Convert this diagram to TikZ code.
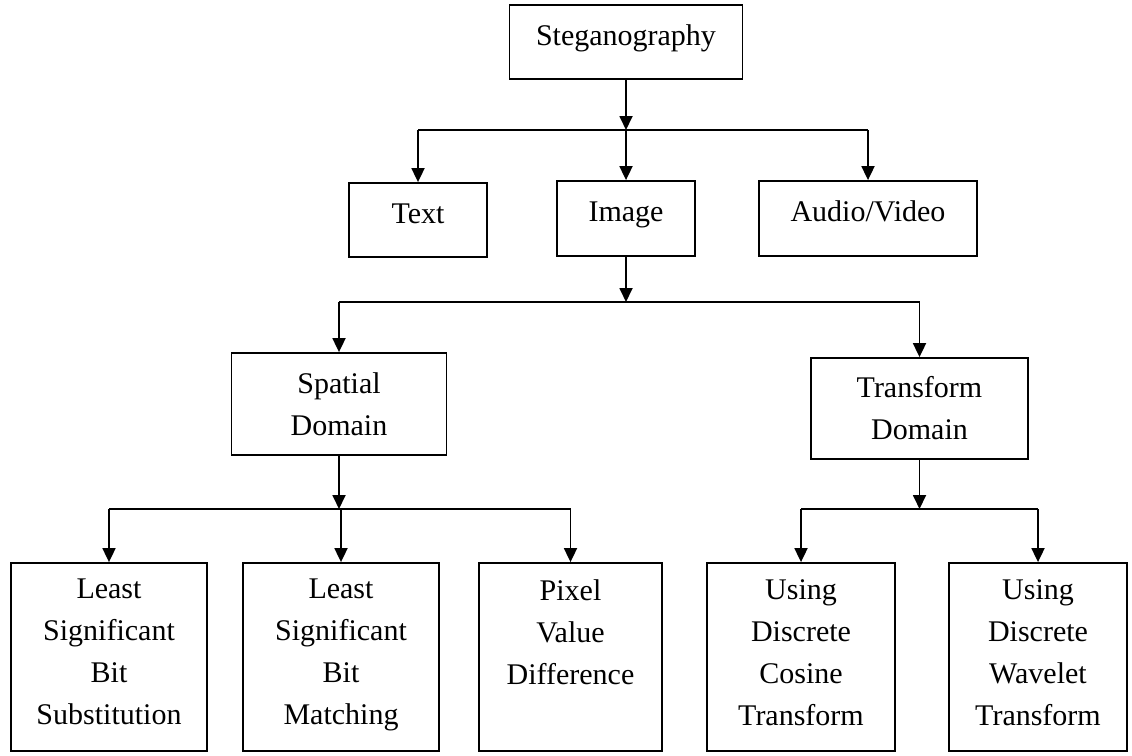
\documentclass[tikz,border=0pt]{standalone}
\usepackage{fontspec}
\setmainfont{Liberation Serif}
\usetikzlibrary{arrows.meta}
\begin{document}
\begin{tikzpicture}[x=1pt,y=-1pt,
  box/.style={draw, line width=1.8pt, inner sep=0pt, align=center,
    font=\fontsize{30}{42}\selectfont},
  single/.style={text height=20pt, text depth=14pt},
  lbl/.style={inner sep=0pt, align=center, anchor=north,
    font=\fontsize{30}{42}\selectfont},
  conn/.style={line width=1.8pt},
  arr/.style={line width=1.8pt, -{Triangle[length=14pt,width=13pt]}}]
\useasboundingbox[fill=white] (0,0) rectangle (1132,755);

% level 0 and 1
\node[box, single, minimum width=233, minimum height=74] (stego) at (626,42) {Steganography};
\node[box, single, minimum width=138, minimum height=74] (text) at (418,220) {Text};
\node[box, single, minimum width=138, minimum height=75] (image) at (626,218.5) {Image};
\node[box, single, minimum width=218, minimum height=75] (av) at (868,218.5) {Audio/Video};

% level 2
\node[box, minimum width=215, minimum height=102] (spatial) at (339,404) {Spatial\\Domain};
\node[box, minimum width=217, minimum height=101] (transform) at (919.5,408.5) {Transform\\Domain};

% level 3 boxes
\node[box, minimum width=196, minimum height=188] (lsbs) at (109,657) {};
\node[box, minimum width=196, minimum height=188] (lsbm) at (341,657) {};
\node[box, minimum width=183, minimum height=188] (pvd) at (570.5,657) {};
\node[box, minimum width=188, minimum height=188] (dct) at (801,657) {};
\node[box, minimum width=178, minimum height=188] (dwt) at (1038,657) {};

% level 3 texts (top aligned)
\node[lbl] (lsbsT) at ([yshift=-17pt]lsbs.north) {Least\\Significant\\Bit\\Substitution};
\node[lbl] (lsbmT) at ([yshift=-17pt]lsbm.north) {Least\\Significant\\Bit\\Matching};
\node[lbl] (pvdT) at ([yshift=-17pt]pvd.north) {Pixel\\Value\\Difference};
\node[lbl] (dctT) at ([yshift=-17pt]dct.north) {Using\\Discrete\\Cosine\\Transform};
\node[lbl] (dwtT) at ([yshift=-17pt]dwt.north) {Using\\Discrete\\Wavelet\\Transform};

% bus coordinates
\coordinate (b1) at (626,130);
\coordinate (b2) at (626,302);
\coordinate (b3) at (339,509);
\coordinate (b4) at (919.5,509);

% connectors level 0 -> 1
\draw[arr] (stego.south) -- (b1);
\draw[conn] (text |- b1) -- (av |- b1);
\draw[arr] (text |- b1) -- (text.north);
\draw[arr] (image |- b1) -- (image.north);
\draw[arr] (av |- b1) -- (av.north);

% image -> domains
\draw[arr] (image.south) -- (b2);
\draw[conn] (spatial |- b2) -- (transform |- b2);
\draw[arr] (spatial |- b2) -- (spatial.north);
\draw[arr] (transform |- b2) -- (transform.north);

% spatial -> methods
\draw[arr] (spatial.south) -- (b3);
\draw[conn] (lsbs |- b3) -- (pvd |- b3);
\draw[arr] (lsbs |- b3) -- (lsbs.north);
\draw[arr] (lsbm |- b3) -- (lsbm.north);
\draw[arr] (pvd |- b3) -- (pvd.north);

% transform -> methods
\draw[arr] (transform.south) -- (b4);
\draw[conn] (dct |- b4) -- (dwt |- b4);
\draw[arr] (dct |- b4) -- (dct.north);
\draw[arr] (dwt |- b4) -- (dwt.north);
\end{tikzpicture}
\end{document}
